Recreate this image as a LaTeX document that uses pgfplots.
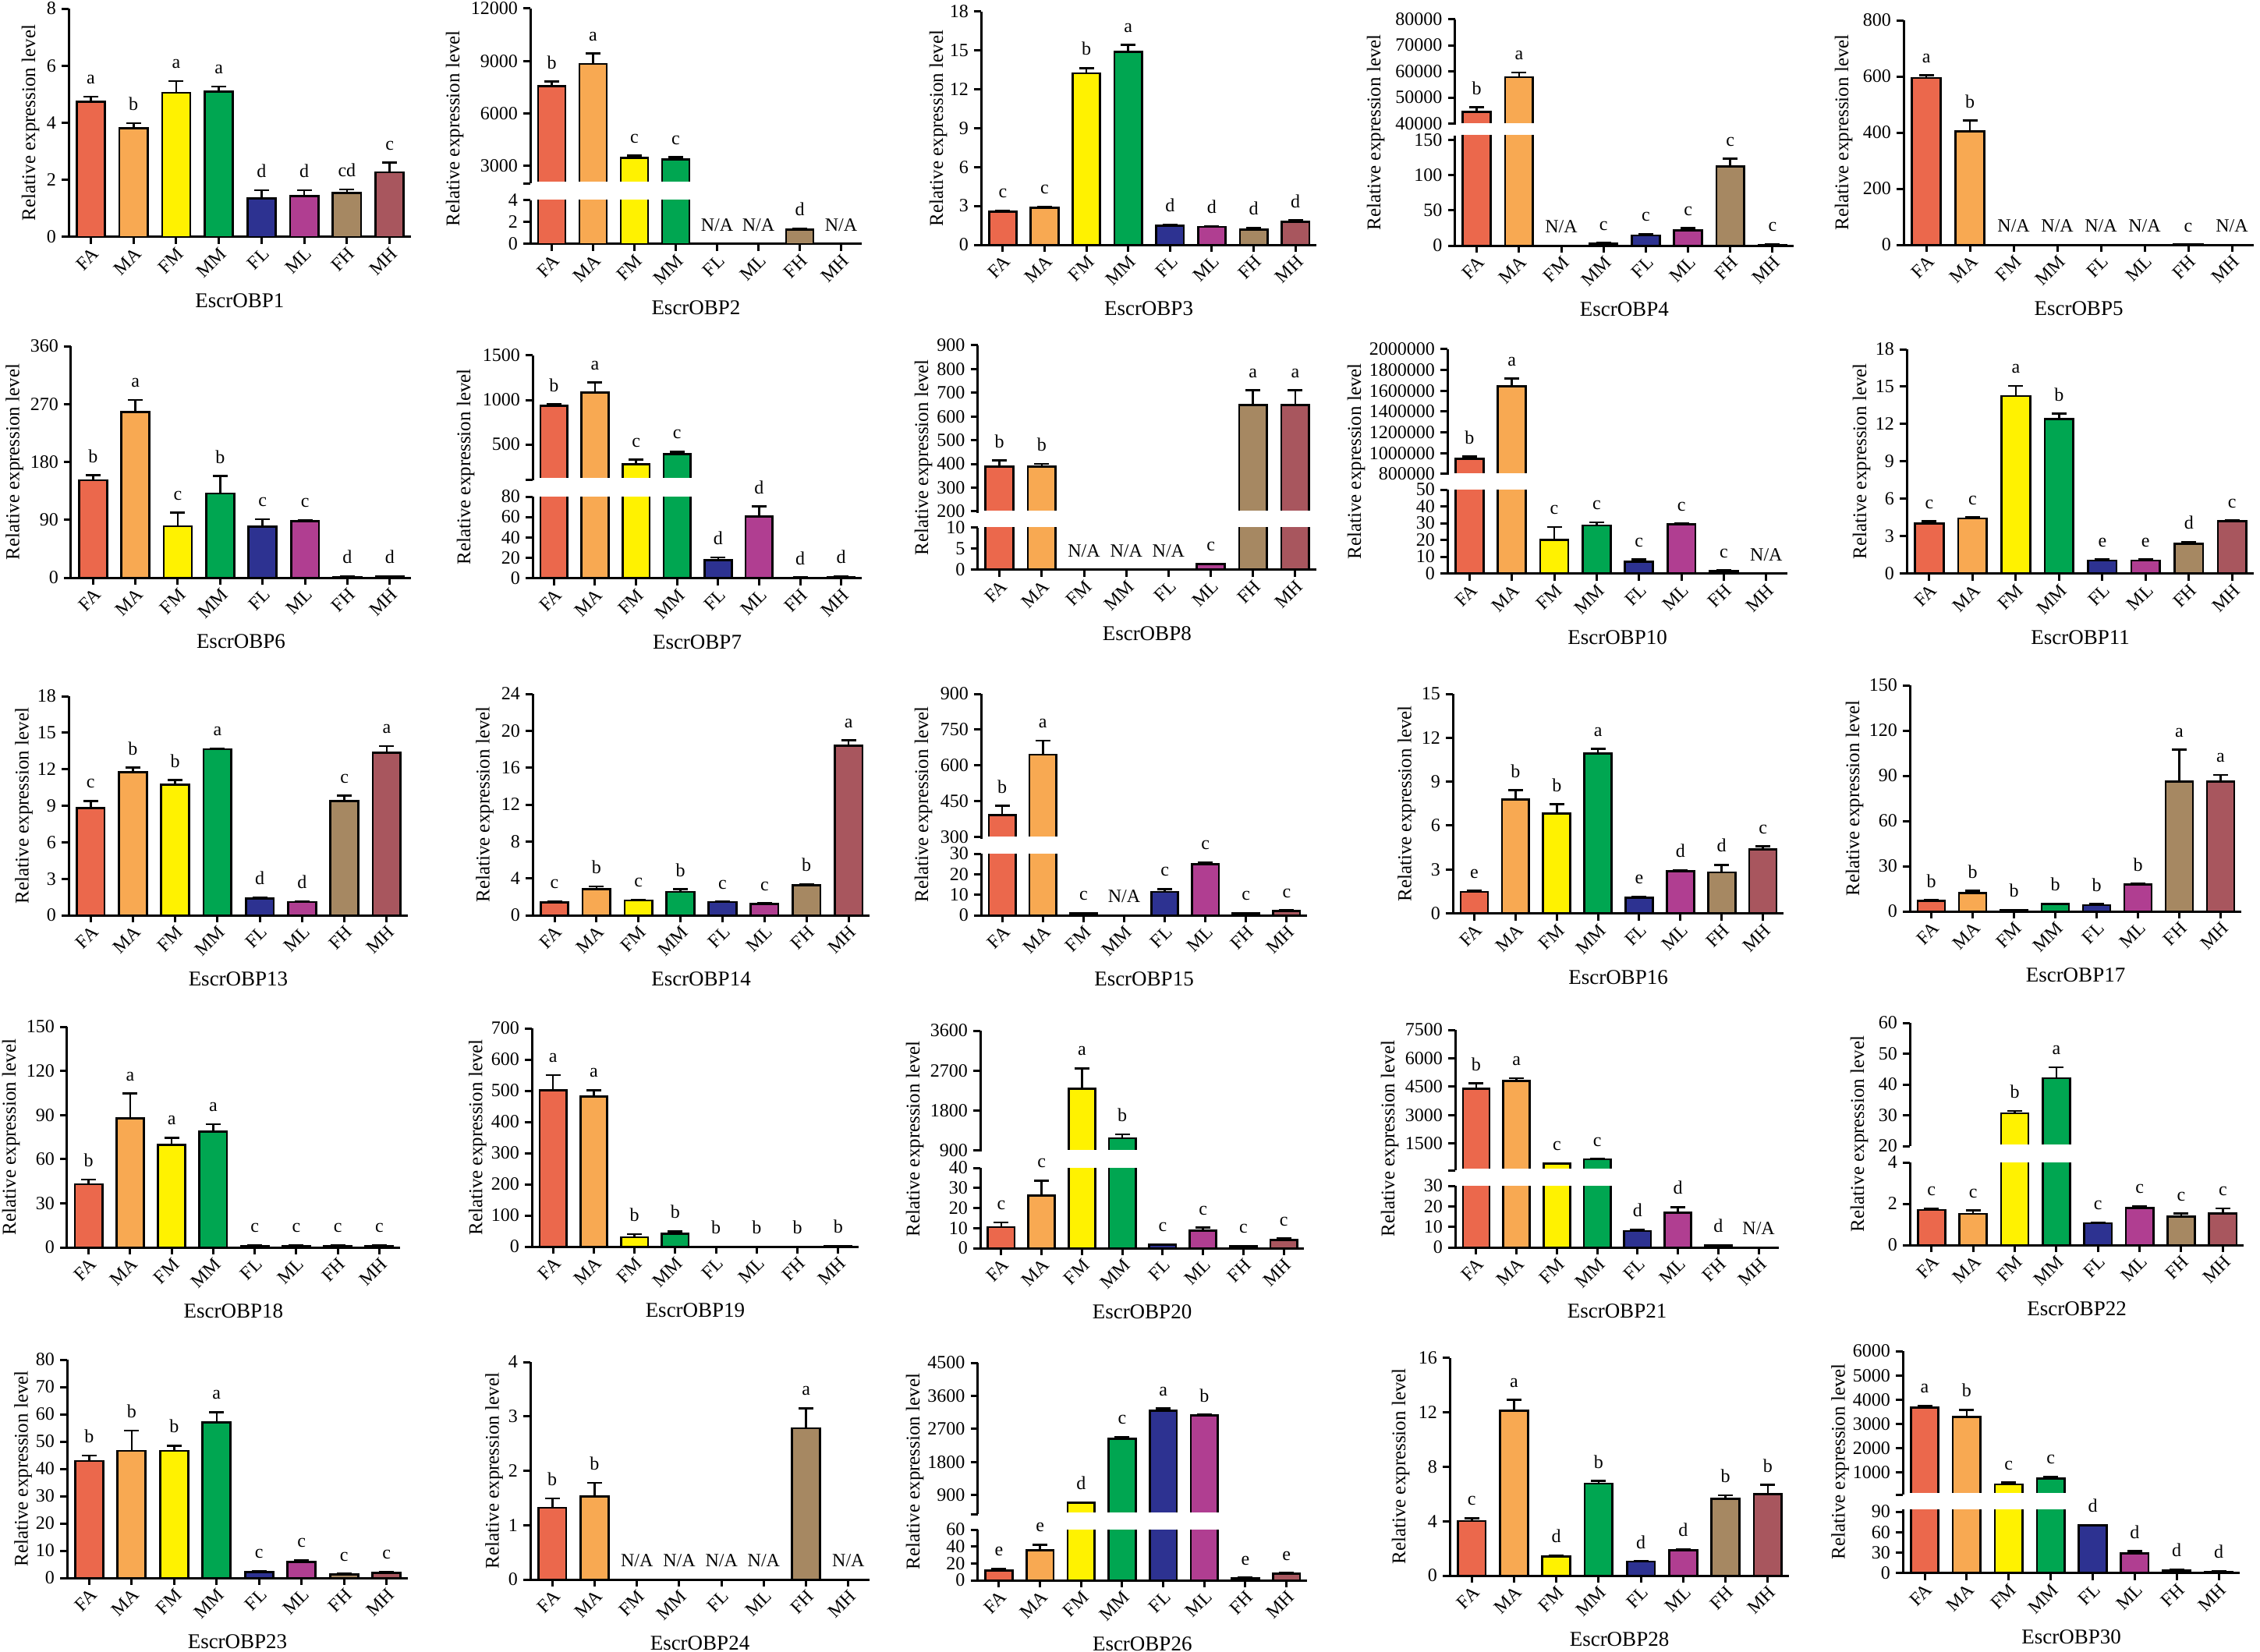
\documentclass[border=0pt]{standalone}
\usepackage{fontspec}
\setmainfont{Liberation Serif}
\usepackage{pgfplots}
\pgfplotsset{compat=1.18}
\usepackage{pgfplotstable}

\definecolor{cFA}{RGB}{235,104,76}
\definecolor{cMA}{RGB}{248,169,82}
\definecolor{cFM}{RGB}{255,242,0}
\definecolor{cMM}{RGB}{0,166,81}
\definecolor{cFL}{RGB}{45,50,145}
\definecolor{cML}{RGB}{176,62,145}
\definecolor{cFH}{RGB}{166,136,98}
\definecolor{cMH}{RGB}{168,86,94}

\newcommand{\fs}{\fontsize{12}{12}\selectfont}

\pgfplotsset{
  obpbase/.style={
    scale only axis, anchor=south west,
    xmin=-0.52, xmax=7.5,
    axis line style={-, line width=1.5pt, black},
    tick style={line width=1.5pt, black},
    tick align=outside, major tick length=4.5pt,
    tick label style={font=\fs},
    /pgf/number format/assume math mode=true,
    yticklabel style={/pgf/number format/fixed, /pgf/number format/precision=0, /pgf/number format/1000 sep={}},
    scaled y ticks=false,
    minor tick num=0,
  },
  obp/.style={obpbase, axis x line*=bottom, axis y line*=left,
    xtick={0,...,7}, xticklabels={FA,MA,FM,MM,FL,ML,FH,MH},
    xticklabel style={rotate=45, anchor=north east, inner sep=1pt},
    xlabel style={at={(axis description cs:0.5,0)}, anchor=center, yshift=-41pt, font=\fontsize{13.5}{13.5}\selectfont},
  },
  obpup/.style={obpbase, axis x line=none, axis y line*=left, xtick=\empty},
}

% #1 table, #2 colour, #3 index, #4 extra options, #5 cap for error length
\newcommand{\onebar}[5]{%
  \addplot[ybar, bar width=0.66, bar shift=0pt, fill=#2, draw=black, line width=1.35pt,
    restrict x to domain=#3:#3, #4,
    error bars/.cd, y dir=plus, y explicit,
    error bar style={line width=1.3pt, black, solid},
    error mark options={rotate=90, line width=1.3pt, black, mark size=4.75pt}]
    table[x=x, y=y, y error expr={min(\thisrow{e},#5)}] {#1};}
\newcommand{\bars}[3]{\onebar{#1}{cFA}{0}{#2}{#3}\onebar{#1}{cMA}{1}{#2}{#3}\onebar{#1}{cFM}{2}{#2}{#3}\onebar{#1}{cMM}{3}{#2}{#3}%
  \onebar{#1}{cFL}{4}{#2}{#3}\onebar{#1}{cML}{5}{#2}{#3}\onebar{#1}{cFH}{6}{#2}{#3}\onebar{#1}{cMH}{7}{#2}{#3}}
\newcommand{\labs}[2]{%
  \addplot[only marks, mark=*, mark size=0pt, mark options={draw=none, fill=none}, #2,
    nodes near coords, point meta=explicit symbolic,
    nodes near coords style={font=\fs, anchor=south, inner sep=0pt, text depth=0pt, yshift=8pt, black}]
    table[x=x, y expr=\thisrow{y}+\thisrow{e}, meta=lab] {#1};}
% upper segment of a broken axis: bars that reach it, their letters, and a clean cut at its bottom
\newcommand{\upper}[3]{% #1 table, #2 ymin, #3 ymax
  \bars{#1}{restrict y to domain=#2:1e12}{1e12}%
  \labs{#1}{restrict y to domain=#2:#3}%
  \draw[white, line width=2.4pt] (axis cs:-0.45,#2) -- (axis cs:7.5,#2);}
\newcommand{\geom}[4]{%
  \pgfmathsetmacro{\AX}{#1*0.5}\pgfmathsetmacro{\AW}{(#2-#1)*0.5}%
  \pgfmathsetmacro{\AY}{-#4*0.5}\pgfmathsetmacro{\AH}{(#4-#3)*0.5}}
\newcommand{\ylab}[2]{\node[rotate=90, font=\fontsize{12.5}{12.5}\selectfont] at ({#1*0.5pt},{-#2*0.5pt}) {Relative expression level};}

% ---------------- data ----------------
\pgfplotstableread{
x y e lab
0 4.73 0.18 a
1 3.80 0.19 b
2 5.05 0.41 a
3 5.09 0.18 a
4 1.36 0.28 d
5 1.43 0.21 d
6 1.54 0.13 cd
7 2.27 0.34 c
}\tA
\pgfplotstableread{
x y e lab
0 7565 268 b
1 8830 596 a
2 3473 119 c
3 3384 119 c
4 0 0 N/A
5 0 0 N/A
6 1.30 0.12 d
7 0 0 N/A
}\tB
\pgfplotstableread{
x y e lab
0 2.57 0.07 c
1 2.87 0.06 c
2 13.25 0.40 b
3 14.9 0.53 a
4 1.48 0.07 d
5 1.38 0.07 d
6 1.19 0.13 d
7 1.78 0.10 d
}\tC
\pgfplotstableread{
x y e lab
0 44571 1629 b
1 57800 1790 a
2 0 0 N/A
3 2.4 1.3 c
4 14.6 1.9 c
5 21.3 3.7 c
6 112.8 11 c
7 1.2 0.6 c
}\tD
\pgfplotstableread{
x y e lab
0 594.7 9.1 a
1 404.6 38 b
2 0 0 N/A
3 0 0 N/A
4 0 0 N/A
5 0 0 N/A
6 0.5 0 c
7 0 0 N/A
}\tE
\pgfplotstableread{
x y e lab
0 151.5 8 b
1 258 18.6 a
2 80 21 c
3 131 27 b
4 79.4 11.3 c
5 88 1.3 c
6 1.3 0.7 d
7 2 0.6 d
}\tF
\pgfplotstableread{
x y e lab
0 937 13 b
1 1082 115 a
2 279 48 c
3 389.5 28.5 c
4 17.5 2.9 d
5 60.4 10 d
6 0.4 0.2 d
7 1.2 0.5 d
}\tG
\pgfplotstableread{
x y e lab
0 388 27 b
1 388 13 b
2 0 0 N/A
3 0 0 N/A
4 0 0 N/A
5 1.3 0.1 c
6 649 62 a
7 649 62 a
}\tH
\pgfplotstableread{
x y e lab
0 943500 24500 b
1 1643700 73700 a
2 19.9 7.7 c
3 28.6 1.8 c
4 7.1 1.3 c
5 29.3 0.5 c
6 1.5 0.3 c
7 0 0 N/A
}\tI
\pgfplotstableread{
x y e lab
0 4.0 0.18 c
1 4.42 0.07 c
2 14.25 0.82 a
3 12.4 0.44 b
4 1.03 0.1 e
5 1.03 0.1 e
6 2.36 0.17 d
7 4.18 0.07 c
}\tJ
\pgfplotstableread{
x y e lab
0 8.81 0.59 c
1 11.75 0.38 b
2 10.73 0.39 b
3 13.64 0.06 a
4 1.4 0.07 d
5 1.08 0.07 d
6 9.4 0.43 c
7 13.36 0.54 a
}\tK
\pgfplotstableread{
x y e lab
0 1.38 0.14 c
1 2.81 0.33 b
2 1.6 0.1 c
3 2.54 0.27 b
4 1.43 0.05 c
5 1.2 0.09 c
6 3.23 0.14 b
7 18.4 0.57 a
}\tL
\pgfplotstableread{
x y e lab
0 392.6 39.4 b
1 645.4 58.6 a
2 1.0 0.2 c
3 0 0 N/A
4 11.4 1.4 c
5 24.8 1.1 c
6 1.0 0.2 c
7 2.1 0.4 c
}\tM
\pgfplotstableread{
x y e lab
0 1.46 0.08 e
1 7.78 0.64 b
2 6.82 0.64 b
3 10.92 0.32 a
4 1.08 0.06 e
5 2.88 0.06 d
6 2.8 0.52 d
7 4.37 0.2 c
}\tN
\pgfplotstableread{
x y e lab
0 7.1 0.3 b
1 12.2 1.4 b
2 0.85 0.25 b
3 4.8 0.3 b
4 4.2 0.6 b
5 17.8 0.6 b
6 86 21.3 a
7 86 4.6 a
}\tO
\pgfplotstableread{
x y e lab
0 42.9 3.2 b
1 87.6 17.1 a
2 69.6 5 a
3 78.6 5.2 a
4 1.0 0.5 c
5 1.0 0.5 c
6 1.0 0.5 c
7 1.0 0.5 c
}\tP
\pgfplotstableread{
x y e lab
0 501.8 47.8 a
1 481.3 20.5 a
2 30 9.6 b
3 41 8.2 b
4 0.3 0.2 b
5 0.3 0.2 b
6 0.3 0.2 b
7 1.5 0.5 b
}\tQ
\pgfplotstableread{
x y e lab
0 10.5 2.3 c
1 26.1 7.6 c
2 2289 463 a
3 1180 87 b
4 1.7 0.2 c
5 8.7 1.6 c
6 0.9 0.25 c
7 4.0 0.8 c
}\tR
\pgfplotstableread{
x y e lab
0 4411 268 b
1 4814 134 a
2 448 30 c
3 672 20 c
4 8.0 0.7 d
5 16.9 2.7 d
6 0.85 0.2 d
7 0 0 N/A
}\tS
\pgfplotstableread{
x y e lab
0 1.7 0.06 c
1 1.51 0.17 c
2 30.66 0.7 b
3 42.0 3.6 a
4 1.06 0.04 c
5 1.78 0.11 c
6 1.39 0.14 c
7 1.53 0.25 c
}\tT
\pgfplotstableread{
x y e lab
0 42.9 2.0 b
1 46.6 7.4 b
2 46.6 1.9 b
3 57.1 3.7 a
4 2.2 0.3 c
5 5.9 0.6 c
6 1.25 0.31 c
7 1.9 0.3 c
}\tU
\pgfplotstableread{
x y e lab
0 1.32 0.17 b
1 1.53 0.25 b
2 0 0 N/A
3 0 0 N/A
4 0 0 N/A
5 0 0 N/A
6 2.78 0.37 a
7 0 0 N/A
}\tV
\pgfplotstableread{
x y e lab
0 11.7 2 e
1 35.6 6.6 e
2 691 9 d
3 2433 47 c
4 3199 58 a
5 3060 23 b
6 2.5 0.5 e
7 7.6 1 e
}\tW
\pgfplotstableread{
x y e lab
0 4.0 0.22 c
1 12.09 0.81 a
2 1.41 0.06 d
3 6.75 0.19 b
4 1.03 0.03 d
5 1.88 0.06 d
6 5.63 0.27 b
7 5.97 0.69 b
}\tX
\pgfplotstableread{
x y e lab
0 3667 87 a
1 3281 298 b
2 509 70 c
3 737 88 c
4 69.9 0.6 d
5 28.3 3.8 d
6 3.8 1.2 d
7 1.9 0.6 d
}\tY

\begin{document}
\begin{tikzpicture}
\useasboundingbox (0,0) rectangle (1449pt,-1059.5pt);

% ===== Row 1 =====
\geom{88}{527}{11}{304}
\begin{axis}[obp, at={(\AX pt,\AY pt)}, width=\AW pt, height=\AH pt, ymin=0, ymax=8, ytick={0,2,...,8}, xlabel={EscrOBP1}]
\bars{\tA}{}{1e9}\labs{\tA}{}
\end{axis}
\ylab{39}{157.5}

\geom{680}{1105}{11}{235.4}
\begin{axis}[obpup, at={(\AX pt,\AY pt)}, width=\AW pt, height=\AH pt, ymin=2000, ymax=12000, ytick={3000,6000,9000,12000}, extra y ticks={2000}, extra y tick labels={}]
\upper{\tB}{2000}{12000}
\end{axis}
\geom{680}{1105}{257}{313}
\begin{axis}[obp, at={(\AX pt,\AY pt)}, width=\AW pt, height=\AH pt, ymin=0, ymax=4, ytick={0,2,4}, xlabel={EscrOBP2}]
\bars{\tB}{restrict y to domain*=0:5}{4}\labs{\tB}{restrict y to domain=0:4}
\end{axis}
\ylab{583}{165}

\geom{1258}{1688}{15}{314}
\begin{axis}[obp, at={(\AX pt,\AY pt)}, width=\AW pt, height=\AH pt, ymin=0, ymax=18, ytick={0,3,...,18}, xlabel={EscrOBP3}]
\bars{\tC}{}{1e9}\labs{\tC}{}
\end{axis}
\ylab{1203}{164.5}

\geom{1865.5}{2300}{24.6}{160.2}
\begin{axis}[obpup, at={(\AX pt,\AY pt)}, width=\AW pt, height=\AH pt, ymin=39500, ymax=80000, ytick={40000,50000,...,80000}]
\upper{\tD}{39500}{80000}
\end{axis}
\geom{1865.5}{2300}{173.7}{315}
\begin{axis}[obp, at={(\AX pt,\AY pt)}, width=\AW pt, height=\AH pt, ymin=0, ymax=157, ytick={0,50,100,150}, xlabel={EscrOBP4}]
\bars{\tD}{restrict y to domain*=0:190}{150}\labs{\tD}{restrict y to domain=0:157}
\end{axis}
\ylab{1764}{170}

\geom{2441}{2890}{26}{314}
\begin{axis}[obp, at={(\AX pt,\AY pt)}, width=\AW pt, height=\AH pt, ymin=0, ymax=800, ytick={0,200,...,800}, xlabel={EscrOBP5}]
\bars{\tE}{}{1e9}\labs{\tE}{}
\end{axis}
\ylab{2364}{170}

% ===== Row 2 =====
\geom{91}{527}{444}{741}
\begin{axis}[obp, at={(\AX pt,\AY pt)}, width=\AW pt, height=\AH pt, ymin=0, ymax=360, ytick={0,90,...,360}, xlabel={EscrOBP6}]
\bars{\tF}{}{1e9}\labs{\tF}{}
\end{axis}
\ylab{18.5}{592.5}

\geom{683}{1105}{456}{615.6}
\begin{axis}[obpup, at={(\AX pt,\AY pt)}, width=\AW pt, height=\AH pt, ymin=100, ymax=1500, ytick={500,1000,1500}, extra y ticks={100}, extra y tick labels={}]
\upper{\tG}{100}{1500}
\end{axis}
\geom{683}{1105}{637}{741.5}
\begin{axis}[obp, at={(\AX pt,\AY pt)}, width=\AW pt, height=\AH pt, ymin=0, ymax=80, ytick={0,20,...,80}, xlabel={EscrOBP7}]
\bars{\tG}{restrict y to domain*=0:95}{80}\labs{\tG}{restrict y to domain=0:80}
\end{axis}
\ylab{597}{599}

\geom{1253.5}{1688}{443}{657.5}
\begin{axis}[obpup, at={(\AX pt,\AY pt)}, width=\AW pt, height=\AH pt, ymin=195, ymax=900, ytick={200,300,...,900}]
\upper{\tH}{195}{900}
\end{axis}
\geom{1253.5}{1688}{676.5}{730.6}
\begin{axis}[obp, at={(\AX pt,\AY pt)}, width=\AW pt, height=\AH pt, ymin=0, ymax=10, ytick={0,5,10}, xlabel={EscrOBP8}]
\bars{\tH}{restrict y to domain*=0:12}{10}\labs{\tH}{restrict y to domain=0:10}
\end{axis}
\ylab{1184}{587}

\geom{1856}{2292}{448}{609.3}
\begin{axis}[obpup, at={(\AX pt,\AY pt)}, width=\AW pt, height=\AH pt, ymin=790000, ymax=2000000, ytick={800000,1000000,1200000,1400000,1600000,1800000,2000000}]
\upper{\tI}{790000}{2000000}
\end{axis}
\geom{1856}{2292}{628}{735.5}
\begin{axis}[obp, at={(\AX pt,\AY pt)}, width=\AW pt, height=\AH pt, ymin=0, ymax=50, ytick={0,10,...,50}, xlabel={EscrOBP10}]
\bars{\tI}{restrict y to domain*=0:60}{50}\labs{\tI}{restrict y to domain=0:50}
\end{axis}
\ylab{1739}{592}

\geom{2445}{2890}{448}{735.5}
\begin{axis}[obp, at={(\AX pt,\AY pt)}, width=\AW pt, height=\AH pt, ymin=0, ymax=18, ytick={0,3,...,18}, xlabel={EscrOBP11}]
\bars{\tJ}{}{1e9}\labs{\tJ}{}
\end{axis}
\ylab{2387}{592}

% ===== Row 3 =====
\geom{88}{523}{893}{1174}
\begin{axis}[obp, at={(\AX pt,\AY pt)}, width=\AW pt, height=\AH pt, ymin=0, ymax=18, ytick={0,3,...,18}, xlabel={EscrOBP13}]
\bars{\tK}{}{1e9}\labs{\tK}{}
\end{axis}
\ylab{30.5}{1033.5}

\geom{683}{1115}{890}{1174}
\begin{axis}[obp, at={(\AX pt,\AY pt)}, width=\AW pt, height=\AH pt, ymin=0, ymax=24, ytick={0,4,...,24}, xlabel={EscrOBP14}]
\bars{\tL}{}{1e9}\labs{\tL}{}
\end{axis}
\ylab{621.6}{1032}

\geom{1258}{1676}{890}{1075.5}
\begin{axis}[obpup, at={(\AX pt,\AY pt)}, width=\AW pt, height=\AH pt, ymin=295, ymax=900, ytick={300,450,...,900}]
\upper{\tM}{295}{900}
\end{axis}
\geom{1258}{1676}{1095}{1174}
\begin{axis}[obp, at={(\AX pt,\AY pt)}, width=\AW pt, height=\AH pt, ymin=0, ymax=30, ytick={0,10,20,30}, xlabel={EscrOBP15}]
\bars{\tM}{restrict y to domain*=0:36}{30}\labs{\tM}{restrict y to domain=0:30}
\end{axis}
\ylab{1184}{1032}

\geom{1863}{2287}{890}{1171.5}
\begin{axis}[obp, at={(\AX pt,\AY pt)}, width=\AW pt, height=\AH pt, ymin=0, ymax=15, ytick={0,3,...,15}, xlabel={EscrOBP16}]
\bars{\tN}{}{1e9}\labs{\tN}{}
\end{axis}
\ylab{1803.6}{1031}

\geom{2449}{2874}{879}{1169}
\begin{axis}[obp, at={(\AX pt,\AY pt)}, width=\AW pt, height=\AH pt, ymin=0, ymax=150, ytick={0,30,...,150}, xlabel={EscrOBP17}]
\bars{\tO}{}{1e9}\labs{\tO}{}
\end{axis}
\ylab{2378}{1024}

% ===== Row 4 =====
\geom{86}{513}{1317}{1600}
\begin{axis}[obp, at={(\AX pt,\AY pt)}, width=\AW pt, height=\AH pt, ymin=0, ymax=150, ytick={0,30,...,150}, xlabel={EscrOBP18}]
\bars{\tP}{}{1e9}\labs{\tP}{}
\end{axis}
\ylab{14}{1458.5}

\geom{682}{1101}{1319}{1599}
\begin{axis}[obp, at={(\AX pt,\AY pt)}, width=\AW pt, height=\AH pt, ymin=0, ymax=700, ytick={0,100,...,700}, xlabel={EscrOBP19}]
\bars{\tQ}{}{1e9}\labs{\tQ}{}
\end{axis}
\ylab{612.4}{1459}

\geom{1257}{1672}{1322}{1477}
\begin{axis}[obpup, at={(\AX pt,\AY pt)}, width=\AW pt, height=\AH pt, ymin=880, ymax=3600, ytick={900,1800,2700,3600}]
\upper{\tR}{880}{3600}
\end{axis}
\geom{1257}{1672}{1498}{1601}
\begin{axis}[obp, at={(\AX pt,\AY pt)}, width=\AW pt, height=\AH pt, ymin=0, ymax=40, ytick={0,10,...,40}, xlabel={EscrOBP20}]
\bars{\tR}{restrict y to domain*=0:48}{40}\labs{\tR}{restrict y to domain=0:40}
\end{axis}
\ylab{1173}{1461}

\geom{1866}{2281}{1321}{1501}
\begin{axis}[obpup, at={(\AX pt,\AY pt)}, width=\AW pt, height=\AH pt, ymin=100, ymax=7500, ytick={1500,3000,...,7500}, extra y ticks={100}, extra y tick labels={}]
\upper{\tS}{100}{7500}
\end{axis}
\geom{1866}{2281}{1521}{1600}
\begin{axis}[obp, at={(\AX pt,\AY pt)}, width=\AW pt, height=\AH pt, ymin=0, ymax=30, ytick={0,10,20,30}, xlabel={EscrOBP21}]
\bars{\tS}{restrict y to domain*=0:36}{30}\labs{\tS}{restrict y to domain=0:30}
\end{axis}
\ylab{1782}{1460.5}

\geom{2449}{2877}{1312}{1470}
\begin{axis}[obpup, at={(\AX pt,\AY pt)}, width=\AW pt, height=\AH pt, ymin=20, ymax=60, ytick={20,30,...,60}]
\upper{\tT}{20}{60}
\end{axis}
\geom{2449}{2877}{1491}{1597}
\begin{axis}[obp, at={(\AX pt,\AY pt)}, width=\AW pt, height=\AH pt, ymin=0, ymax=4, ytick={0,2,4}, xlabel={EscrOBP22}]
\bars{\tT}{restrict y to domain*=0:5}{4}\labs{\tT}{restrict y to domain=0:4}
\end{axis}
\ylab{2384}{1454.5}

% ===== Row 5 =====
\geom{86}{523}{1744}{2024}
\begin{axis}[obp, at={(\AX pt,\AY pt)}, width=\AW pt, height=\AH pt, ymin=0, ymax=80, ytick={0,10,...,80}, xlabel={EscrOBP23}]
\bars{\tU}{}{1e9}\labs{\tU}{}
\end{axis}
\ylab{29.6}{1884}

\geom{680}{1115}{1747}{2026}
\begin{axis}[obp, at={(\AX pt,\AY pt)}, width=\AW pt, height=\AH pt, ymin=0, ymax=4, ytick={0,1,...,4}, xlabel={EscrOBP24}]
\bars{\tV}{}{1e9}\labs{\tV}{}
\end{axis}
\ylab{633.7}{1886.5}

\geom{1253.5}{1676}{1748}{1942}
\begin{axis}[obpup, at={(\AX pt,\AY pt)}, width=\AW pt, height=\AH pt, ymin=380, ymax=4500, ytick={900,1800,...,4500}, extra y ticks={380}, extra y tick labels={}]
\upper{\tW}{380}{4500}
\end{axis}
\geom{1253.5}{1676}{1962}{2027}
\begin{axis}[obp, at={(\AX pt,\AY pt)}, width=\AW pt, height=\AH pt, ymin=0, ymax=60, ytick={0,20,40,60}, xlabel={EscrOBP26}]
\bars{\tW}{restrict y to domain*=0:72}{60}\labs{\tW}{restrict y to domain=0:60}
\end{axis}
\ylab{1173}{1887.5}

\geom{1859}{2294}{1741.5}{2021}
\begin{axis}[obp, at={(\AX pt,\AY pt)}, width=\AW pt, height=\AH pt, ymin=0, ymax=16, ytick={0,4,...,16}, xlabel={EscrOBP28}]
\bars{\tX}{}{1e9}\labs{\tX}{}
\end{axis}
\ylab{1796}{1881}

\geom{2440}{2872}{1733}{1917.4}
\begin{axis}[obpup, at={(\AX pt,\AY pt)}, width=\AW pt, height=\AH pt, ymin=75, ymax=6000, ytick={1000,2000,...,6000}, extra y ticks={75}, extra y tick labels={}]
\upper{\tY}{75}{6000}
\end{axis}
\geom{2440}{2872}{1936.4}{2017.5}
\begin{axis}[obp, at={(\AX pt,\AY pt)}, width=\AW pt, height=\AH pt, ymin=0, ymax=93, ytick={0,30,60,90}, xlabel={EscrOBP30}]
\bars{\tY}{restrict y to domain*=0:110}{93}\labs{\tY}{restrict y to domain=0:93}
\end{axis}
\ylab{2359.5}{1875}

\end{tikzpicture}
\end{document}
